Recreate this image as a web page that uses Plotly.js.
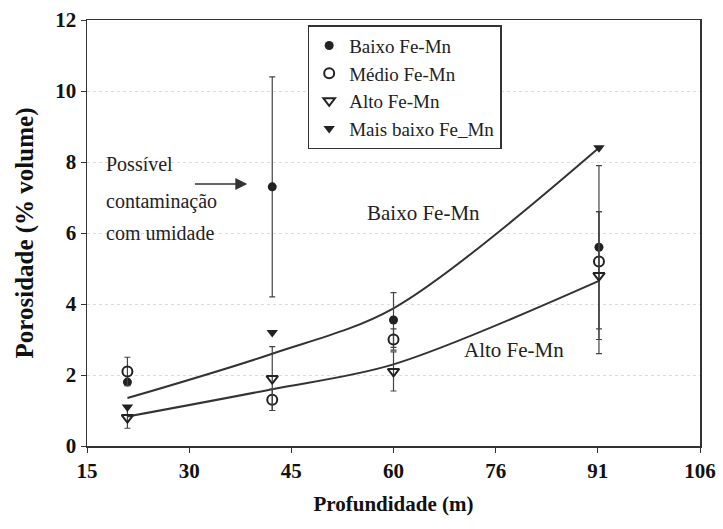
<!DOCTYPE html>
<html>
<head>
<meta charset="utf-8">
<script src="https://cdn.plot.ly/plotly-3.0.1.min.js"></script>
<style>
html,body{margin:0;padding:0;background:#fff}
#chart{width:723px;height:529px}
</style>
</head>
<body>
<div id="chart"></div>
<script>
// Depths (m) where samples were taken
const depth = [21, 42.5, 60.5, 91];
// Series values (% volume)
const baixo = [1.8, 7.3, 3.55, 5.6];
const baixoErr = [0, 3.1, 0.77, 2.3];
const medio = [2.1, 1.3, 3.0, 5.2];
const medioErrPlus = [0.4, 0.3, 0.3, 1.4];
const medioErrMinus = [0.4, 0.3, 0.3, 2.2];
const alto = [0.8, 1.9, 2.1, 4.8];
const altoErrPlus = [0.3, 0.9, 0.55, 1.8];
const altoErrMinus = [0.3, 0.9, 0.55, 2.2];
const maisBaixo = [1.1, 3.2, null, 8.4];
// Fitted trend curves
const baixoFit = [1.35, 2.6, 3.88, 8.4];
const altoFit = [0.83, 1.6, 2.3, 4.65];
// Axis tick labels
const xTickText = ['15', '30', '45', '60', '76', '91', '106'];
const yTickVals = [0, 2, 4, 6, 8, 10, 12];

const font = 'Liberation Serif';
const b = t => '<b>' + t + '</b>';
const xTickVals = xTickText.map((t, i) => 15 + i * 91 / 6);
const errStyle = {color: '#444', thickness: 1.2, width: 3};

const traces = [
  {x: depth, y: baixoFit, mode: 'lines', line: {color: '#333', width: 2, shape: 'spline', smoothing: 0.9}, showlegend: false, hoverinfo: 'skip'},
  {x: depth, y: altoFit, mode: 'lines', line: {color: '#333', width: 2, shape: 'spline', smoothing: 0.9}, showlegend: false, hoverinfo: 'skip'},
  {x: depth, y: baixo, name: 'Baixo Fe-Mn', mode: 'markers',
   marker: {symbol: 'circle', size: 9, color: '#222'},
   error_y: Object.assign({type: 'data', array: baixoErr, visible: true}, errStyle)},
  {x: depth, y: medio, name: 'Médio Fe-Mn', mode: 'markers',
   marker: {symbol: 'circle-open', size: 10, color: '#222', line: {width: 2}},
   error_y: Object.assign({type: 'data', symmetric: false, array: medioErrPlus, arrayminus: medioErrMinus, visible: true}, errStyle)},
  {x: depth, y: alto, name: 'Alto Fe-Mn', mode: 'markers',
   marker: {symbol: 'triangle-down-open', size: 10, color: '#222', line: {width: 2}},
   error_y: Object.assign({type: 'data', symmetric: false, array: altoErrPlus, arrayminus: altoErrMinus, visible: true}, errStyle)},
  {x: depth, y: maisBaixo, name: 'Mais baixo Fe_Mn', mode: 'markers',
   marker: {symbol: 'triangle-down', size: 10, color: '#222'}}
];

const layout = {
  width: 723, height: 529,
  margin: {l: 87, r: 23, t: 20, b: 83},
  paper_bgcolor: '#fff', plot_bgcolor: '#fff',
  font: {family: font, color: '#111', size: 18},
  showlegend: true,
  legend: {
    x: 0.36, y: 0.988, xanchor: 'left', yanchor: 'top',
    bgcolor: '#fff', bordercolor: '#333', borderwidth: 1.5,
    font: {family: font, size: 19, color: '#222'},
    itemwidth: 30, tracegroupgap: 0
  },
  xaxis: {
    range: [15, 106], tickvals: xTickVals, ticktext: xTickText.map(b),
    showline: true, linecolor: '#333', linewidth: 1.5, mirror: true,
    ticks: 'outside', ticklen: 5, tickcolor: '#333',
    showgrid: false, zeroline: false,
    tickfont: {family: font, size: 21, color: '#111'},
    title: {text: b('Profundidade (m)'), font: {family: font, size: 21, color: '#111'}, standoff: 14}
  },
  yaxis: {
    range: [0, 12], tickvals: yTickVals, ticktext: yTickVals.map(v => b(String(v))),
    showline: true, linecolor: '#333', linewidth: 1.5, mirror: true,
    ticks: 'outside', ticklen: 5, tickcolor: '#333',
    showgrid: true, gridcolor: '#ddd', griddash: 'dot', gridwidth: 1,
    zeroline: false,
    tickfont: {family: font, size: 21, color: '#111'},
    title: {text: b('Porosidade (% volume)'), font: {family: font, size: 25, color: '#111'}, standoff: 14}
  },
  annotations: [
    {x: 17.5, y: 7.95, xref: 'x', yref: 'y', text: 'Possível', showarrow: false, xanchor: 'left', font: {family: font, size: 20, color: '#222'}},
    {x: 17.5, y: 6.9, xref: 'x', yref: 'y', text: 'contaminação', showarrow: false, xanchor: 'left', font: {family: font, size: 20, color: '#222'}},
    {x: 17.5, y: 6.0, xref: 'x', yref: 'y', text: 'com umidade', showarrow: false, xanchor: 'left', font: {family: font, size: 20, color: '#222'}},
    {x: 38.8, y: 7.38, ax: 30.8, ay: 7.38, xref: 'x', yref: 'y', axref: 'x', ayref: 'y', text: '', showarrow: true, arrowhead: 2, arrowsize: 1.6, arrowwidth: 1.5, arrowcolor: '#333'},
    {x: 56.2, y: 6.55, xref: 'x', yref: 'y', text: 'Baixo Fe-Mn', showarrow: false, xanchor: 'left', font: {family: font, size: 21, color: '#222'}},
    {x: 70.6, y: 2.7, xref: 'x', yref: 'y', text: 'Alto Fe-Mn', showarrow: false, xanchor: 'left', font: {family: font, size: 21, color: '#222'}}
  ]
};

Plotly.newPlot('chart', traces, layout, {displayModeBar: false, staticPlot: true});
</script>
</body>
</html>
